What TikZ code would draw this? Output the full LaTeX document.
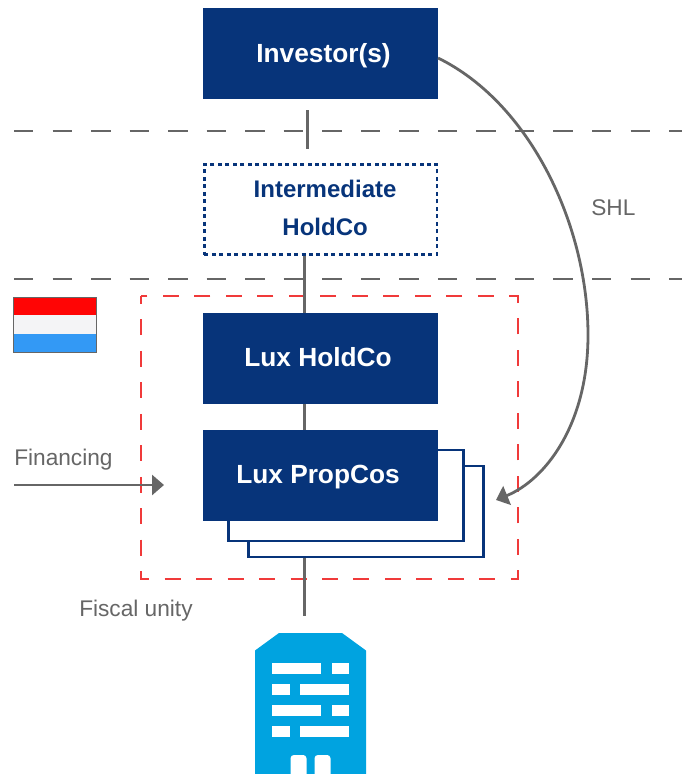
\documentclass[tikz,border=0pt]{standalone}
\usepackage{fontspec}
\setmainfont{Liberation Sans}
\usetikzlibrary{arrows.meta,calc}
\definecolor{navy}{HTML}{07347A}
\definecolor{linegrey}{HTML}{666666}
\definecolor{redbox}{HTML}{F03A3A}
\definecolor{bldg}{HTML}{00A3E0}
\definecolor{flagred}{HTML}{FF0505}
\definecolor{flagwhite}{HTML}{F4F4F6}
\definecolor{flagblue}{HTML}{3399F5}
\tikzset{
  x=0.75pt,y=-0.75pt,
  solidbox/.style={fill=navy,text=white,font=\fontsize{19.7}{22}\selectfont\bfseries,minimum width=176.25pt,minimum height=68.25pt,inner sep=0pt},
  backbox/.style={draw=navy,line width=1.9pt,fill=white,minimum width=176.25pt,minimum height=68.25pt,inner sep=0pt},
  holdbox/.style={draw=navy,line width=1.8pt,dash pattern=on 3pt off 2.6pt,text=navy,font=\fontsize{18}{28.5}\selectfont\bfseries,minimum width=174.4pt,minimum height=67.5pt,inner sep=0pt},
  link/.style={draw=linegrey,line width=2.1pt},
  border/.style={draw=linegrey,line width=2.1pt,dash pattern=on 14.6pt off 14.3pt},
  flow/.style={draw=linegrey,line width=2.1pt,-{Triangle[length=9pt,width=15pt]}},
  fiscal/.style={draw=redbox,line width=2.1pt,dash pattern=on 12pt off 11.6pt,dash phase=6pt},
  note/.style={text=linegrey,font=\fontsize{17}{20}\selectfont,inner sep=0pt},
  window/.style={fill=white},
}
\begin{document}
\begin{tikzpicture}
\useasboundingbox (0,0) rectangle (682,774);
% frontier lines
\coordinate (bla) at (14,131); \coordinate (blb) at (682,131);
\coordinate (bma) at (14,279); \coordinate (bmb) at (682,279);
\draw[border] (bla) -- (blb);
\draw[border] (bma) -- (bmb);
% flag
\fill[fill=flagred] (13,297) rectangle (97,315);
\fill[fill=flagwhite] (13,315) rectangle (97,334);
\fill[fill=flagblue] (13,334) rectangle (97,353);
\draw[draw=linegrey,line width=1pt] (13.5,297.5) rectangle (96.5,352.5);
% stacked boxes
\node[backbox] (back2) at (365.8,511.7) {};
\node[backbox] (back1) at (345.8,495.5) {};
% nodes
\node[solidbox] (inv) at (320.5,53.5) {\raisebox{-6.6pt}[0pt][0pt]{\hspace*{4.5pt}Investor(s)}};
\node[holdbox] (inter) at (320.75,209.5) {\raisebox{-3pt}[0pt][0pt]{\hspace*{6.5pt}\parbox{150pt}{\centering\baselineskip=28.5pt Intermediate\\HoldCo}}};
\node[solidbox] (hold) at (320.5,358.5) {\raisebox{-5.7pt}[0pt][0pt]{Lux HoldCo\hspace*{3.75pt}}};
\node[solidbox] (prop) at (320.5,475.5) {\raisebox{-5.9pt}[0pt][0pt]{Lux PropCos\hspace*{3.75pt}}};
% fiscal unity box
\draw[fiscal] (141,296) rectangle (518,579);
% connectors
\coordinate (axb) at (304.8,0);
\coordinate (ca) at (307.5,110);
\coordinate (cb) at (307.5,149);
\coordinate (cc) at (304.8,616);
\draw[link] (ca) -- (cb);
\draw[link] (inter.south -| axb) -- (hold.north -| axb);
\draw[link] (hold.south -| axb) -- (prop.north -| axb);
\draw[link] (back2.south -| axb) -- (cc);
% SHL curve
\coordinate (shlstart) at (438,58);
\coordinate (shlmid) at (588,335);
\coordinate (shlend) at (496,500);
\draw[flow] (shlstart) .. controls (530,103) and (588,225) .. (shlmid) .. controls (588,425) and (545,480) .. (shlend);
% financing arrow
\coordinate (fina) at (14,485);
\coordinate (finb) at (164,485);
\draw[flow] (fina) -- (finb);
% labels
\node[note,anchor=base west] (fin) at (14,465) {Financing};
\node[note,anchor=base west] (fu) at (79,616) {Fiscal unity};
\node[note,anchor=base west] (shl) at (591,215) {SHL};
% building
\fill[bldg] (255,774) -- (255,650.5) -- (279,633) -- (342,633) -- (366,650.5) -- (366,774) -- cycle;
\foreach \xa/\xb/\yy in {272/321/663,332/349/663,272/290/684,300/349/684,272/321/705,332/349/705,272/290/726,300/349/726}
  \fill[window] (\xa,\yy) rectangle (\xb,\yy+10.5);
\fill[window,rounded corners=2.5pt] (290.5,755) rectangle (306.5,780);
\fill[window,rounded corners=2.5pt] (314.5,755) rectangle (330.5,780);
\end{tikzpicture}
\end{document}
